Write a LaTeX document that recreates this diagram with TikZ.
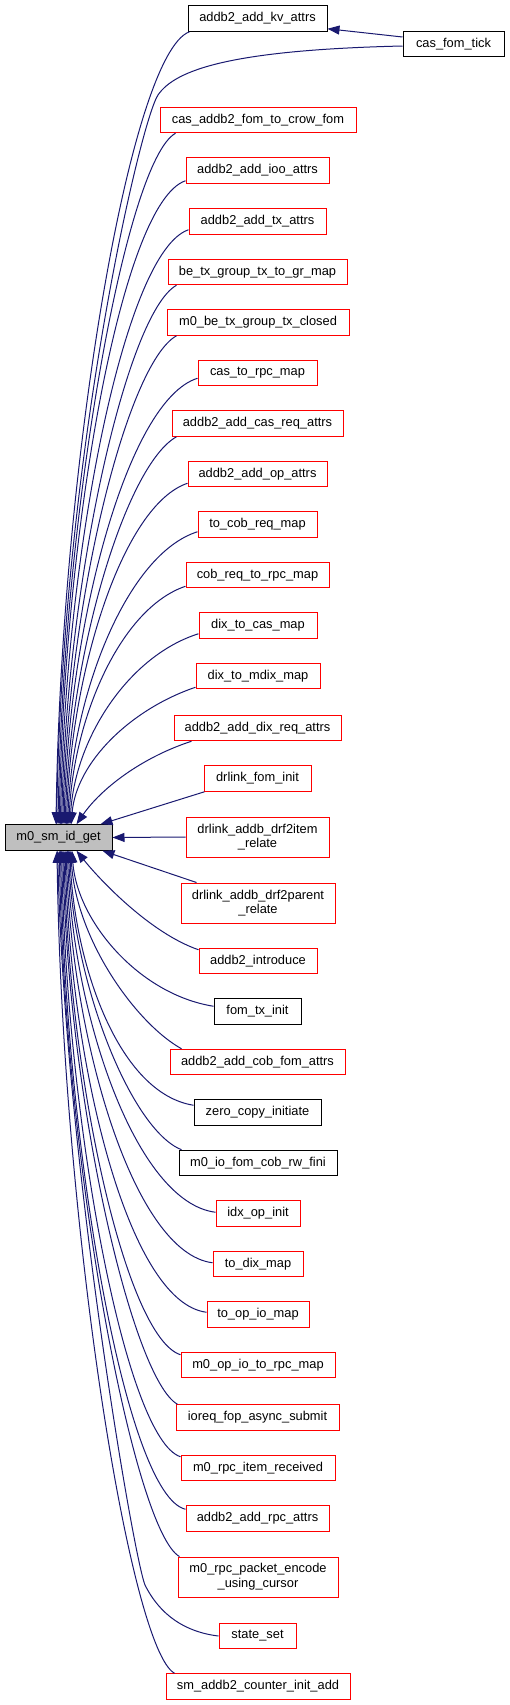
\documentclass[tikz,border=0pt]{standalone}
\usepackage{fontspec}
\setmainfont{Liberation Sans}
\usetikzlibrary{arrows.meta,calc}
\definecolor{edgecol}{HTML}{191970}
\definecolor{mainfill}{HTML}{BFBFBF}
\begin{document}
\begin{tikzpicture}[x=1pt,y=1pt,
  fn/.style={draw, line width=1pt, minimum height=25.5pt, inner sep=0pt, font=\fontsize{12.85}{14.7}\selectfont, align=center, text=black},
  rn/.style={fn, draw=red},
  bn/.style={fn, draw=black},
  tall/.style={minimum height=40pt},
  callarrow/.style={draw=edgecol, line width=1pt, -{Triangle[length=12pt,width=9pt]}}]
\useasboundingbox (0,0) rectangle (509,-1705);
% main node
\node[bn, fill=mainfill, minimum width=107pt] (main) at (58.5,-837.5) {m0\_sm\_id\_get};
% callers
\node[bn, minimum width=139pt] (n1) at (257.5,-18.5) {addb2\_add\_kv\_attrs};
\node[bn, minimum width=101pt] (cft) at (453.5,-44) {cas\_fom\_tick};
\node[rn, minimum width=196pt] (n2) at (258,-120) {cas\_addb2\_fom\_to\_crow\_fom};
\node[rn, minimum width=143pt] (n3) at (257.5,-170.5) {addb2\_add\_ioo\_attrs};
\node[rn, minimum width=137pt] (n4) at (257.5,-221.5) {addb2\_add\_tx\_attrs};
\node[rn, minimum width=179pt] (n5) at (257.5,-272) {be\_tx\_group\_tx\_to\_gr\_map};
\node[rn, minimum width=182pt] (n6) at (258,-322.5) {m0\_be\_tx\_group\_tx\_closed};
\node[rn, minimum width=119pt] (n7) at (257.5,-373) {cas\_to\_rpc\_map};
\node[rn, minimum width=171pt] (n8) at (257.5,-423.5) {addb2\_add\_cas\_req\_attrs};
\node[rn, minimum width=139pt] (n9) at (257.5,-474) {addb2\_add\_op\_attrs};
\node[rn, minimum width=119pt] (n10) at (257.5,-524.5) {to\_cob\_req\_map};
\node[rn, minimum width=143pt] (n11) at (257.5,-575) {cob\_req\_to\_rpc\_map};
\node[rn, minimum width=118pt] (n12) at (258,-625.5) {dix\_to\_cas\_map};
\node[rn, minimum width=124pt] (n13) at (258,-676) {dix\_to\_mdix\_map};
\node[rn, minimum width=167pt] (n14) at (257.5,-728) {addb2\_add\_dix\_req\_attrs};
\node[rn, minimum width=107pt] (n15) at (257.5,-778.5) {drlink\_fom\_init};
\node[rn, tall, minimum width=143pt] (n16) at (257.5,-837) {drlink\_addb\_drf2item\\\_relate};
\node[rn, tall, minimum width=154pt] (n17) at (258,-903) {drlink\_addb\_drf2parent\\\_relate};
\node[rn, minimum width=118pt] (n18) at (258,-961) {addb2\_introduce};
\node[bn, minimum width=87pt] (n19) at (257.5,-1011.5) {fom\_tx\_init};
\node[rn, minimum width=175pt] (n20) at (257.5,-1062) {addb2\_add\_cob\_fom\_attrs};
\node[bn, minimum width=127pt] (n21) at (257.5,-1112.5) {zero\_copy\_initiate};
\node[bn, minimum width=158pt] (n22) at (258,-1163) {m0\_io\_fom\_cob\_rw\_fini};
\node[rn, minimum width=84pt] (n23) at (258,-1213.5) {idx\_op\_init};
\node[rn, minimum width=90pt] (n24) at (258,-1264) {to\_dix\_map};
\node[rn, minimum width=102pt] (n25) at (258,-1314.5) {to\_op\_io\_map};
\node[rn, minimum width=154pt] (n26) at (258,-1365) {m0\_op\_io\_to\_rpc\_map};
\node[rn, minimum width=163pt] (n27) at (257.5,-1417.5) {ioreq\_fop\_async\_submit};
\node[rn, minimum width=154pt] (n28) at (258,-1468) {m0\_rpc\_item\_received};
\node[rn, minimum width=143pt] (n29) at (257.5,-1518.5) {addb2\_add\_rpc\_attrs};
\node[rn, tall, minimum width=160pt] (n30) at (258,-1577) {m0\_rpc\_packet\_encode\\\_using\_cursor};
\node[rn, minimum width=77pt] (n31) at (257.5,-1636) {state\_set};
\node[rn, minimum width=184pt] (n32) at (258,-1686.5) {sm\_addb2\_counter\_init\_add};
% cas_fom_tick edges
\draw[callarrow] ($(cft.west)+(0,7)$) -- ($(n1.south east)+(0,3)$);
\draw[callarrow] ($(cft.west)+(0,-2)$) .. controls (230,-50) and (175,-70) .. (158,-95)
  .. controls (141,-120) and (63,-450) .. ($(main.north west)+(52,0)$);
% upper fan
\foreach \nm/\ox/\oy/\cx/\cy/\xe in {
  n1/2/0/-60/-22/56, n2/16/0/-50/-28/58, n3/0/3/-65/-22/59.2, n4/0/5/-65/-22/60.4,
  n5/9/0/-50/-28/61.6, n6/10/0/-50/-28/62.8, n7/0/8/-70/-22/64, n8/5/0/-50/-28/65.2,
  n9/0/4/-65/-22/66.4, n10/0/6/-70/-22/67.6, n11/0/2/-65/-22/68.8, n12/0/5/-70/-22/70,
  n13/0/2/-65/-22/71.2} {
  \draw[callarrow] let \p1=($(\nm.south west)+(\ox,\oy)$), \p2=(main.north west) in
    (\p1) .. controls ($(\p1)+(\cx,\cy)$) and ({\xe+5},{\y1+0.55*(\y2-\y1)}) .. (\xe,\y2);
}
\draw[callarrow] ($(n14.south west)+(18,0)$) .. controls (140,-758) and (100,-790) .. ($(main.north west)+(72,0)$);
\draw[callarrow] ($(n15.south west)+(1,0)$) -- ($(main.north east)+(-12,0)$);
\draw[callarrow] (n16.west) -- (main.east);
\draw[callarrow] ($(n17.north west)+(16,0)$) -- ($(main.south east)+(-10,0)$);
\draw[callarrow] ($(n18.north west)+(0,-2)$) .. controls (150,-933) and (100,-880) .. ($(main.south west)+(72,0)$);
% lower fan
\foreach \nm/\ox/\oy/\cx/\cy/\xe in {
  n19/0/-8/-75/12/72, n20/12/0/-45/25/70.8, n21/0/-6/-75/12/69.7, n22/3/0/-50/20/68.5,
  n23/0/-12/-80/10/67.4, n24/0/-12/-80/10/66.2, n25/0/-11/-80/10/65.1, n26/0/-3/-55/18/63.9,
  n27/2/0/-45/25/62.8, n28/0/-2/-55/18/61.6, n29/0/-4/-60/14/60.5, n30/2/0/-45/25/59.3,
  n32/9/0/-45/25/57} {
  \draw[callarrow] let \p1=($(\nm.north west)+(\ox,\oy)$), \p2=(main.south west) in
    (\p1) .. controls ($(\p1)+(\cx,\cy)$) and ({\xe+5},{\y1+0.55*(\y2-\y1)}) .. (\xe,\y2);
}
\draw[callarrow] (n31.west) .. controls (185,-1632) and (160,-1615) .. (145,-1585)
  .. controls (133,-1555) and (64,-1150) .. ($(main.south west)+(53.2,0)$);
\end{tikzpicture}
\end{document}
